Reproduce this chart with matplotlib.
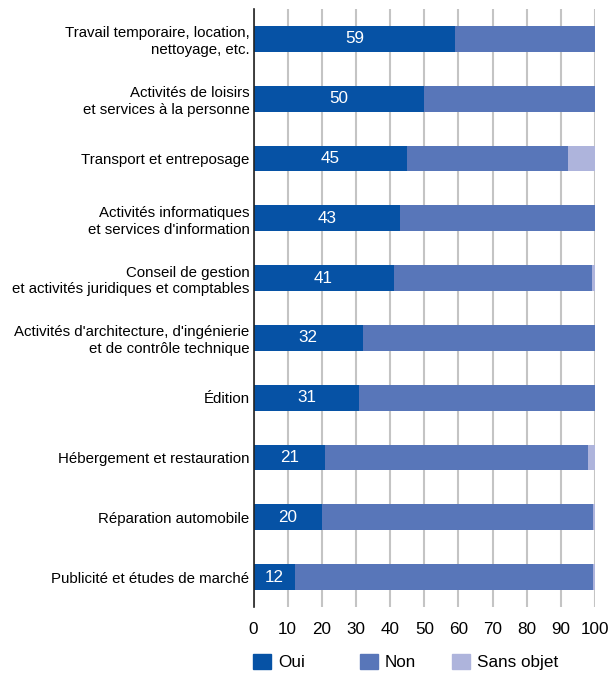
import numpy as np
import matplotlib
matplotlib.use("Agg")
import matplotlib.pyplot as plt
from matplotlib.patches import Patch
from matplotlib import font_manager

noms = {f.name for f in font_manager.fontManager.ttflist}
if 'Liberation Sans Narrow' in noms:
    plt.rcParams['font.family'] = ['Liberation Sans Narrow', 'DejaVu Sans']
    fs = 12.5
else:
    plt.rcParams['font.family'] = ['Liberation Sans', 'DejaVu Sans']
    fs = 10.8

secteurs = [
    "Travail temporaire, location,\nnettoyage, etc.",
    "Activités de loisirs\net services à la personne",
    "Transport et entreposage",
    "Activités informatiques\net services d'information",
    "Conseil de gestion\net activités juridiques et comptables",
    "Activités d'architecture, d'ingénierie\net de contrôle technique",
    "Édition",
    "Hébergement et restauration",
    "Réparation automobile",
    "Publicité et études de marché",
]
oui = [59, 50, 45, 43, 41, 32, 31, 21, 20, 12]
non = [41, 50, 47, 57, 58, 68, 69, 77, 79.5, 87.5]
sans_objet = [0, 0, 8, 0, 1, 0, 0, 2, 0.5, 0.5]
ticks = list(range(0, 101, 10))

c_oui = "#0652a5"
c_non = "#5876b9"
c_sans = "#aeb4dc"

fig = plt.figure(figsize=(6.11, 6.75), dpi=100)
ax = fig.add_axes([0.415, 0.1007, 0.559, 0.886])

y = np.arange(len(secteurs))
h = 0.43
ax.barh(y, oui, height=h, color=c_oui, zorder=3)
ax.barh(y, non, left=oui, height=h, color=c_non, zorder=3)
left2 = np.array(oui) + np.array(non)
ax.barh(y, sans_objet, left=left2, height=h, color=c_sans, zorder=3)

for yi, v in zip(y, oui):
    ax.text(v / 2, yi, str(v), ha="center", va="center", color="white",
            fontsize=fs + 1.5, zorder=4)

ax.set_ylim(len(secteurs) - 0.5, -0.5)
ax.set_xlim(0, 100)
ax.set_yticks(y)
ax.set_yticklabels(secteurs, fontsize=fs, linespacing=1.25)
ax.set_xticks(ticks)
ax.set_xticklabels([str(t) for t in ticks], fontsize=fs + 1.5)
ax.tick_params(axis="y", length=0, pad=3)
ax.tick_params(axis="x", length=0, pad=11)
ax.grid(axis="x", color="#c4c4c4", linewidth=1.5, zorder=0)
for s in ["top", "right", "bottom"]:
    ax.spines[s].set_visible(False)
ax.spines["left"].set_color("#222222")
ax.spines["left"].set_linewidth(1.2)
ax.spines["left"].set_zorder(5)

# légende : trois entrées placées séparément
entrees = [("Oui", c_oui, 253), ("Non", c_non, 360), ("Sans objet", c_sans, 452)]
for nom, col, xpix in entrees:
    fig.legend(handles=[Patch(color=col, label=nom)], loc="center left",
               bbox_to_anchor=(xpix / 611, 1 - 662 / 675), borderaxespad=0,
               borderpad=0, frameon=False, fontsize=fs + 1.5, handlelength=1.05,
               handleheight=1.05, handletextpad=0.4)

fig.savefig("out.png", dpi=100)
